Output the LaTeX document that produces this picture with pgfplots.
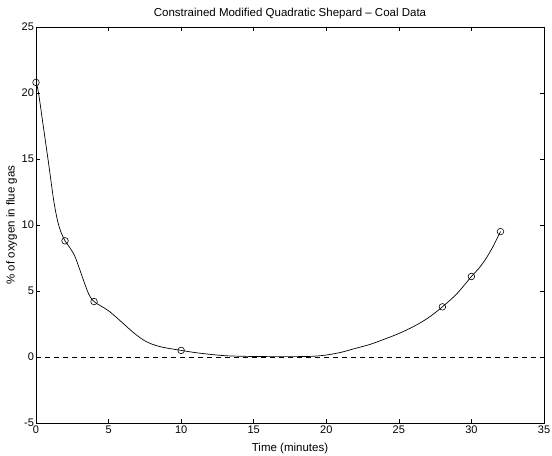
\documentclass[border=0pt]{standalone}
\usepackage{fontspec}
\setmainfont{Liberation Sans}
\usepackage{pgfplots}
\pgfplotsset{compat=1.18}
\begin{document}
\begin{tikzpicture}
\begin{axis}[
  scale only axis,
  width=508pt, height=396pt,
  xmin=0, xmax=35, ymin=-5, ymax=25,
  xtick={0,5,...,35}, ytick={-5,0,...,25},
  tick align=inside,
  major tick length=4pt,
  axis line style={line width=0.8pt},
  tick style={line width=0.6pt, black},
  ticklabel style={font=\fontsize{11}{12}\selectfont},
  /pgf/number format/assume math mode=true,
  xticklabel style={yshift=1pt},
  yticklabel style={xshift=1.5pt},
  every axis title shift=0pt,
  title={Constrained Modified Quadratic Shepard -- Coal Data},
  title style={font=\fontsize{11.5}{12}\selectfont, at={(axis description cs:0.5,1.034)}, anchor=center},
  xlabel={Time (minutes)},
  ylabel={\% of oxygen in flue gas},
  xlabel style={font=\fontsize{11.5}{12}\selectfont, at={(axis description cs:0.5,-0.064)}, anchor=center},
  ylabel style={font=\fontsize{11.5}{12}\selectfont, at={(axis description cs:-0.048,0.5)}, anchor=center},
]
\addplot[black, line width=0.6pt, dash pattern=on 5pt off 4pt] coordinates {(0,0) (35,0)};
\addplot[black, line width=0.7pt, smooth, tension=0.5] coordinates {
(0,20.8) (0.16,20.1) (0.5,17.5) (0.8,15.2) (1.0,13.6) (1.2,12.0) (1.4,10.75) (1.6,9.85) (1.8,9.25) (2,8.8)
(2.35,8.25) (2.69,7.6) (3.15,6.2) (3.6,4.85) (4,4.2)
(5,3.5) (6,2.55) (6.5,2.05) (7,1.6) (7.5,1.22) (8,0.97) (8.5,0.8) (9,0.68) (10,0.5)
(11,0.33) (12,0.2) (13,0.1) (14,0.06) (15,0.04) (16,0.03) (17,0.03) (18,0.03) (19,0.05)
(20,0.15) (21,0.35) (22,0.65) (23,0.95) (24,1.35) (25,1.78) (26,2.3) (27,2.95) (28,3.8)
(29,4.8) (30,6.1) (30.5,6.7) (31,7.45) (31.5,8.4) (32,9.5)
};
\addplot[black, only marks, mark=o, mark size=3.3pt, mark options={line width=0.6pt}] coordinates {
(0,20.8) (2,8.8) (4,4.2) (10,0.5) (28,3.8) (30,6.1) (32,9.5)
};
\end{axis}
\pgfresetboundingbox
\path ([shift={(-36pt,-32pt)}]current axis.south west) rectangle ([shift={(8pt,27pt)}]current axis.north east);
\end{tikzpicture}
\end{document}
